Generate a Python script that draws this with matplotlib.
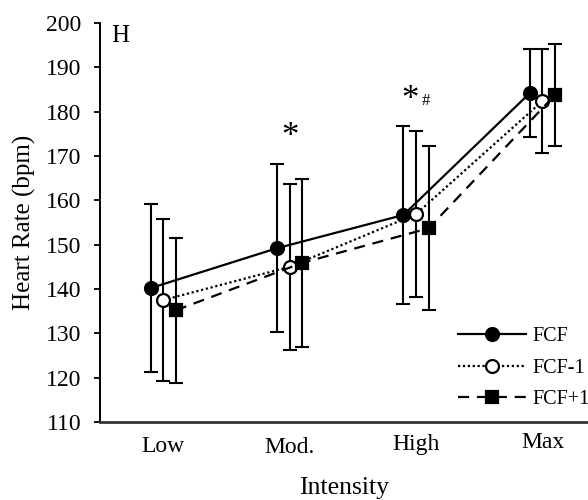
import matplotlib
matplotlib.use("Agg")
import matplotlib.pyplot as plt
import matplotlib.transforms as mtransforms
import numpy as np

plt.rcParams['font.family'] = ['Liberation Serif', 'DejaVu Serif']

categories = ["Low", "Mod.", "High", "Max"]
series_names = ["FCF", "FCF-1", "FCF+1"]

fcf_mean = [140.2, 149.2, 156.7, 184.2]
fcf_sd = [19.0, 19.0, 20.0, 10.0]
fcf_m1_mean = [137.5, 145.0, 156.9, 182.4]
fcf_m1_sd = [18.2, 18.7, 18.7, 11.8]
fcf_p1_mean = [135.2, 145.9, 153.7, 183.8]
fcf_p1_sd = [16.4, 18.9, 18.5, 11.5]

y_ticks = [110, 120, 130, 140, 150, 160, 170, 180, 190, 200]

fig = plt.figure(figsize=(5.88, 5.0), dpi=100)
ax = fig.add_axes([100 / 588, 78 / 500, 1 - 100 / 588, (422 - 23) / 500])

x = np.arange(len(categories))
offset = 0.1
styles = [
    dict(ls='-', marker='o', mfc='black'),
    dict(ls=(0, (1, 1.2)), marker='o', mfc='white'),
    dict(ls=(0, (5, 3.5)), marker='s', mfc='black'),
]
means = [fcf_mean, fcf_m1_mean, fcf_p1_mean]
sds = [fcf_sd, fcf_m1_sd, fcf_p1_sd]

handles = []
for i, (m, s, st) in enumerate(zip(means, sds, styles)):
    xi = x + (i - 1) * offset
    ax.errorbar(xi, m, yerr=s, fmt='none', ecolor='black', elinewidth=1.5,
                capsize=5, capthick=1.5, zorder=2)
    h, = ax.plot(xi, m, color='black', lw=1.6, linestyle=st['ls'],
                 marker=st['marker'], ms=9.3 if st['marker'] == 'o' else 8.8,
                 mfc=st['mfc'], mec='black', mew=1.6, zorder=3)
    handles.append(h)

# significance markers above the tallest error bar of each group
tops = np.max([np.add(m, s) for m, s in zip(means, sds)], axis=0)
ax.text(x[1], tops[1] + 2.2, "*", ha='center', va='bottom', fontsize=25)
ax.text(x[2] - 0.05, tops[2] + 2.2, "*", ha='center', va='bottom', fontsize=25)
ax.text(x[2] + 0.075, tops[2] + 3.8, "#", ha='center', va='bottom', fontsize=12)

ax.set_xlim(-0.5, 3.36)
ax.set_ylim(110, 200)
ax.set_yticks(y_ticks)
ax.set_xticks(x)
ax.set_xticklabels(categories)
ax.tick_params(axis='x', length=0, pad=10, labelsize=17)
ax.tick_params(axis='y', direction='out', length=4.5, width=1.3, labelsize=17, pad=9)
for sp in ['top', 'right']:
    ax.spines[sp].set_visible(False)
ax.spines['left'].set_linewidth(1.4)
ax.spines['bottom'].set_linewidth(2.0)
ax.spines['bottom'].set_color('#333333')

# slight vertical stagger of the category labels
label_shift_px = [0, -1, 2, 4]
for lab, dy in zip(ax.get_xticklabels(), label_shift_px):
    lab.set_transform(lab.get_transform() +
                      mtransforms.ScaledTranslation(0, dy / 100, fig.dpi_scale_trans))

ax.set_ylabel("Heart Rate (bpm)", fontsize=18, labelpad=7)
ax.set_xlabel("Intensity", fontsize=18.5, labelpad=14)
ax.text(0.022, 0.995, "H", transform=ax.transAxes, fontsize=18, va='top', ha='left')

leg = ax.legend(handles, series_names, loc='center left', bbox_to_anchor=(0.717, 0.135),
                frameon=False, fontsize=14.5, handlelength=3.4, handletextpad=0.3,
                labelspacing=0.62, borderaxespad=0)

fig.savefig("out.png", dpi=100)
